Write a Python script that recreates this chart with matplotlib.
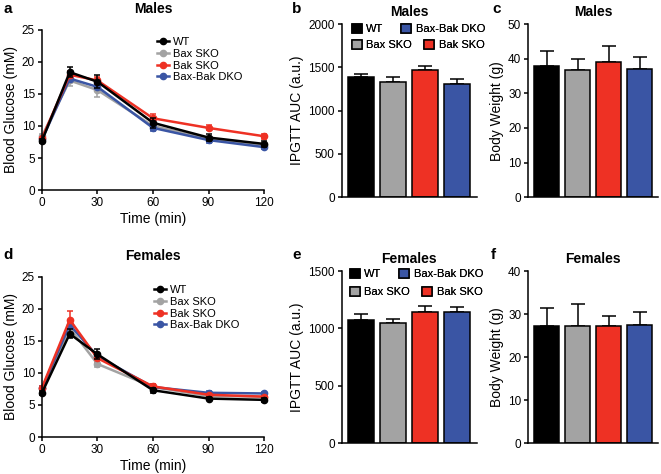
import numpy as np
import matplotlib
matplotlib.use("Agg")
import matplotlib.pyplot as plt
from matplotlib.lines import Line2D

# ----------------------------
# Data
# ----------------------------
groups = ["WT", "Bax SKO", "Bak SKO", "Bax-Bak DKO"]
colors = ["#000000", "#a3a3a3", "#ee3124", "#3a55a4"]
time_min = [0, 15, 30, 60, 90, 120]

# Males IPGTT glucose (mM)
m_wt = [7.7, 18.4, 16.9, 10.5, 8.2, 7.2]
m_bax = [8.4, 17.1, 15.6, 10.0, 8.0, 7.0]
m_bak = [8.1, 18.0, 17.1, 11.2, 9.7, 8.4]
m_dko = [7.9, 17.4, 16.1, 9.7, 7.8, 6.7]
m_wt_err = [0.3, 0.8, 1.0, 0.8, 0.5, 0.5]
m_bax_err = [0.3, 0.9, 1.0, 0.6, 0.4, 0.3]
m_bak_err = [0.3, 0.6, 0.6, 0.6, 0.4, 0.4]
m_dko_err = [0.3, 0.6, 0.6, 0.5, 0.4, 0.3]

# Females IPGTT glucose (mM)
f_wt = [6.9, 16.1, 12.9, 7.3, 6.0, 5.8]
f_bax = [7.6, 17.0, 11.4, 7.8, 6.4, 6.3]
f_bak = [7.7, 18.3, 12.3, 7.9, 6.6, 6.3]
f_dko = [7.6, 17.5, 12.6, 7.8, 6.9, 6.8]
f_wt_err = [0.3, 0.7, 0.8, 0.4, 0.3, 0.3]
f_bax_err = [0.3, 0.8, 0.5, 0.4, 0.3, 0.3]
f_bak_err = [0.3, 1.4, 0.6, 0.4, 0.3, 0.3]
f_dko_err = [0.3, 0.8, 0.5, 0.4, 0.3, 0.3]

# AUC (a.u.)
m_auc = [1390, 1330, 1468, 1312]
m_auc_err = [32, 60, 47, 50]
f_auc = [1076, 1052, 1142, 1148]
f_auc_err = [46, 35, 58, 38]

# Body weight (g)
m_bw = [37.8, 36.9, 39.0, 37.0]
m_bw_err = [4.4, 3.1, 4.7, 3.6]
f_bw = [27.2, 27.2, 27.2, 27.4]
f_bw_err = [4.3, 5.1, 2.4, 3.1]

# ----------------------------
# Style
# ----------------------------
plt.rcParams.update({
    "font.family": ["Liberation Sans", "DejaVu Sans"],
    "font.size": 8.5,
    "axes.linewidth": 1.1,
    "xtick.major.width": 1.1,
    "ytick.major.width": 1.1,
    "xtick.major.size": 3,
    "ytick.major.size": 3,
    "xtick.labelsize": 8.5,
    "ytick.labelsize": 8.5,
    "axes.labelsize": 10,
})

W, H = 661, 474
fig = plt.figure(figsize=(W / 100, H / 100), dpi=100)


def px(x, y):
    # pixel position (from top-left) -> figure fraction
    return x / W, 1 - y / H


def clean(ax):
    ax.spines["top"].set_visible(False)
    ax.spines["right"].set_visible(False)
    ax.tick_params(direction="out", pad=2)


def letter(txt, x, y):
    fig.text(*px(x, y), txt, fontweight="bold", fontsize=11, va="center", ha="left")


def line_panel(rect, series, errs, title, leg_xy):
    ax = fig.add_axes(rect)
    clean(ax)
    order = [1, 3, 2, 0]  # black drawn on top
    for i in order:
        ax.errorbar(time_min, series[i], yerr=errs[i], color=colors[i], marker="o",
                    markersize=4.5, linewidth=1.8, elinewidth=1.1, capsize=2,
                    capthick=1.1, clip_on=False, zorder=2 + (i == 0))
    ax.set_xlim(0, 120)
    ax.set_ylim(0, 25)
    ax.set_xticks([0, 30, 60, 90, 120])
    ax.set_yticks([0, 5, 10, 15, 20, 25])
    ax.set_xlabel("Time (min)", labelpad=2)
    ax.set_ylabel("Blood Glucose (mM)", labelpad=3)
    ax.set_title(title, fontweight="bold", fontsize=10, pad=12)
    handles = [Line2D([], [], color=c, marker="o", markersize=4.5, linewidth=1.8)
               for c in colors]
    fig.legend(handles, groups, loc="upper left", bbox_to_anchor=px(*leg_xy),
               frameon=False, fontsize=8, handlelength=1.1, handletextpad=0.35,
               labelspacing=0.16, borderpad=0, borderaxespad=0)
    return ax


def bar_panel(rect, vals, errs, ylim, yticks, ylabel, title, legend_rows=None):
    ax = fig.add_axes(rect)
    clean(ax)
    x = np.arange(len(groups))
    bars = ax.bar(x, vals, width=0.8, color=colors, edgecolor="black",
                  linewidth=1.1, zorder=2)
    ax.errorbar(x, vals, yerr=[np.zeros(len(vals)), errs], fmt="none",
                ecolor="black", elinewidth=1.1, capsize=5, capthick=1.1, zorder=1)
    ax.set_xlim(-0.6, 3.6)
    ax.set_ylim(*ylim)
    ax.set_yticks(yticks)
    ax.set_xticks([])
    ax.set_ylabel(ylabel, labelpad=3)
    ax.set_title(title, fontweight="bold", fontsize=10, pad=6)
    if legend_rows:
        # two rows, each laid out independently as in the original
        for idx, xy, spacing in legend_rows:
            leg = fig.legend([bars[i] for i in idx], [groups[i] for i in idx],
                             loc="center left", bbox_to_anchor=px(*xy), ncol=2,
                             frameon=False, fontsize=8, handlelength=0.9,
                             handleheight=0.9, handletextpad=0.4,
                             columnspacing=spacing, borderpad=0, borderaxespad=0)
            fig.add_artist(leg)
    return ax


line_panel([0.0635, 0.599, 0.336, 0.338],
           [m_wt, m_bax, m_bak, m_dko],
           [m_wt_err, m_bax_err, m_bak_err, m_dko_err], "Males", (157, 37))
line_panel([0.0635, 0.078, 0.336, 0.338],
           [f_wt, f_bax, f_bak, f_dko],
           [f_wt_err, f_bax_err, f_bak_err, f_dko_err], "Females", (154, 285))

bar_panel([0.517, 0.584, 0.204, 0.365], m_auc, m_auc_err, (0, 2000),
          [0, 500, 1000, 1500, 2000], "IPGTT AUC (a.u.)", "Males",
          legend_rows=[([0, 3], (352, 29), 1.6), ([1, 2], (352, 45), 1.1)])
bar_panel([0.799, 0.584, 0.197, 0.365], m_bw, m_bw_err, (0, 50),
          [0, 10, 20, 30, 40, 50], "Body Weight (g)", "Males")
bar_panel([0.517, 0.065, 0.204, 0.363], f_auc, f_auc_err, (0, 1500),
          [0, 500, 1000, 1500], "IPGTT AUC (a.u.)", "Females",
          legend_rows=[([0, 3], (350, 274), 1.6), ([1, 2], (350, 292), 1.1)])
bar_panel([0.799, 0.065, 0.197, 0.363], f_bw, f_bw_err, (0, 40),
          [0, 10, 20, 30, 40], "Body Weight (g)", "Females")

letter("a", 3, 9)
letter("b", 292, 9)
letter("c", 492, 9)
letter("d", 3, 255)
letter("e", 292, 255)
letter("f", 491, 255)

fig.savefig("out.png", dpi=100)
